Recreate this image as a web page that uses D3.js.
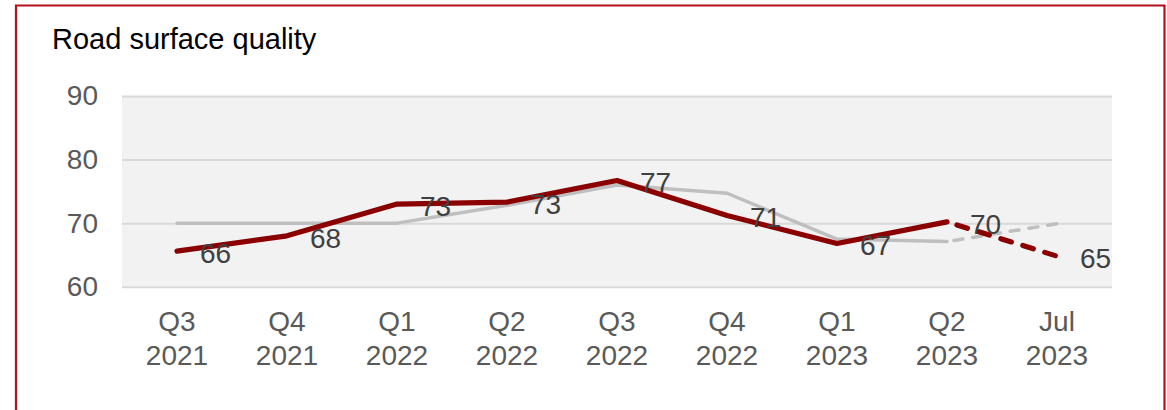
<!DOCTYPE html>
<html>
<head>
<meta charset="utf-8">
<script src="https://cdn.jsdelivr.net/npm/d3@7"></script>
<style>
  html, body { margin: 0; padding: 0; background: #ffffff; }
  svg { display: block; font-family: "Liberation Sans", Arial, sans-serif; }
</style>
</head>
<body>
<svg id="chart" width="1167" height="410"></svg>
<script>
// Quarterly road surface quality scores
const categories = [
  ["Q3", "2021"], ["Q4", "2021"], ["Q1", "2022"], ["Q2", "2022"], ["Q3", "2022"],
  ["Q4", "2022"], ["Q1", "2023"], ["Q2", "2023"], ["Jul", "2023"]
];
const currentSeries = [65.6, 68.0, 73.0, 73.3, 76.7, 71.2, 66.8, 70.2, 64.8];
const currentLabels = ["66", "68", "73", "73", "77", "71", "67", "70", "65"];
const comparisonSeries = [70.0, 70.0, 70.0, 72.8, 76.0, 74.7, 67.5, 67.1, 69.9];
const yTicks = [60, 70, 80, 90];
const titleText = "Road surface quality";
// index from which the latest (partial) period is drawn dashed
const provisionalFrom = 7;

const svg = d3.select("#chart");
const plot = { left: 122, right: 1112, top: 96, bottom: 286.7 };

const x = d3.scaleBand()
  .domain(categories.map((d, i) => i))
  .range([plot.left, plot.right]);
const y = d3.scaleLinear().domain([60, 90]).range([plot.bottom, plot.top]);
const cx = i => x(i) + x.bandwidth() / 2;

// frame
svg.append("path")
  .attr("d", `M16,420 V5.5 H1164.5 V420`)
  .attr("fill", "none")
  .attr("stroke", "#b3101a")
  .attr("stroke-width", 2.2);

// title
svg.append("text")
  .attr("x", 52).attr("y", 48.5)
  .attr("font-size", 29)
  .attr("fill", "#000")
  .text(titleText);

// plot background
svg.append("rect")
  .attr("x", plot.left).attr("y", plot.top)
  .attr("width", plot.right - plot.left)
  .attr("height", plot.bottom - plot.top)
  .attr("fill", "#f2f2f2");

// y axis with gridlines
const yAxis = d3.axisLeft(y).tickValues(yTicks).tickSize(-(plot.right - plot.left)).tickPadding(24);
const gy = svg.append("g").attr("transform", `translate(${plot.left},0)`).call(yAxis);
gy.select(".domain").remove();
gy.selectAll(".tick line").attr("stroke", "#d9d9d9").attr("stroke-width", 2);
gy.selectAll(".tick text")
  .attr("font-size", 28).attr("fill", "#595959")
  .attr("font-family", "'Liberation Sans', Arial, sans-serif");

// x axis: two-line category labels
const xAxis = d3.axisBottom(x).tickSize(0).tickFormat(() => "");
const gx = svg.append("g").attr("transform", `translate(0,${plot.bottom})`).call(xAxis);
gx.select(".domain").remove();
gx.selectAll(".tick").each(function(i) {
  const t = d3.select(this).append("text")
    .attr("text-anchor", "middle")
    .attr("font-size", 28).attr("fill", "#595959")
    .attr("font-family", "'Liberation Sans', Arial, sans-serif");
  t.append("tspan").attr("x", 0).attr("y", 44.5).text(categories[i][0]);
  t.append("tspan").attr("x", 0).attr("y", 78.5).text(categories[i][1]);
});

const line = d3.line().x(d => cx(d.i)).y(d => y(d.v));
const toPts = arr => arr.map((v, i) => ({ i, v }));

function drawSeries(values, color, width, dash) {
  const pts = toPts(values);
  svg.append("path")
    .datum(pts.slice(0, provisionalFrom + 1))
    .attr("d", line)
    .attr("fill", "none").attr("stroke", color)
    .attr("stroke-width", width)
    .attr("stroke-linejoin", "round").attr("stroke-linecap", "round");
  svg.append("path")
    .datum(pts.slice(provisionalFrom))
    .attr("d", line)
    .attr("fill", "none").attr("stroke", color)
    .attr("stroke-width", width)
    .attr("stroke-dasharray", dash)
    .attr("stroke-dashoffset", -width * 2)
    .attr("stroke-linecap", "round");
}

drawSeries(comparisonSeries, "#bfbfbf", 3.5, "9,10");
drawSeries(currentSeries, "#8b0000", 5.2, "11,12");

// value labels to the right of each point
svg.append("g").selectAll("text")
  .data(toPts(currentSeries))
  .join("text")
  .attr("x", d => cx(d.i) + 23)
  .attr("y", d => y(d.v) + 2)
  .attr("dy", "0.35em")
  .attr("font-size", 28)
  .attr("fill", "#404040")
  .text(d => currentLabels[d.i]);
</script>
</body>
</html>
